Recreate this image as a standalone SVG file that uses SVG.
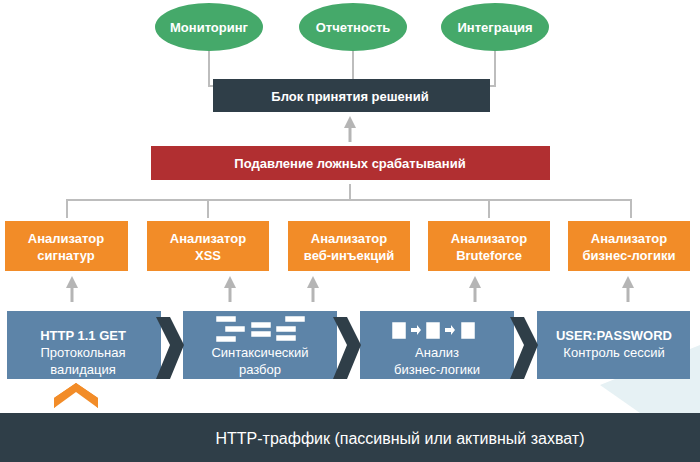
<svg xmlns="http://www.w3.org/2000/svg" width="700" height="462" viewBox="0 0 700 462">
<style>
text{font-family:"Liberation Sans",Arial,sans-serif;text-anchor:middle;fill:#fff}
.b{font-weight:bold;font-size:13px}
.n{font-size:13px}
.g{fill:#45a96a}
.o{fill:#f28c28}
.bl{fill:#5d84a8}
.ln{stroke:#bdbdbd;stroke-width:2;fill:none}
.ar{stroke:#b5b5b5;stroke-width:3;fill:none;marker-end:url(#ah)}
.ch{fill:#2f3e48}
.sm{fill:#fff;stroke:#5d84a8;stroke-width:0.5}
</style>
<defs><marker id="ah" markerWidth="4" markerHeight="4" refX="2" refY="2" orient="auto" markerUnits="strokeWidth"><path d="M0,0L4,2L0,4z" fill="#b5b5b5"/></marker></defs>
<rect width="700" height="462" fill="#fff"/>
<polygon points="600,385 700,345 700,413 640,413" fill="#e6f1f4"/>
<g id="connectors">
<path class="ln" d="M209,50V86H495V50M353,50V100"/>
<path class="ar" d="M350,142V122"/>
<path class="ln" d="M350,184V200M67,218V200H631V218M208,200V218M489,200V218"/>
<path class="ar" d="M72,302V282"/>
<path class="ar" d="M230,302V282"/>
<path class="ar" d="M313,302V282"/>
<path class="ar" d="M475,302V282"/>
<path class="ar" d="M628,302V282"/>
</g>
<g id="n-mon"><ellipse class="g" cx="209" cy="27" rx="54" ry="24"/><text class="b" x="209" y="32">Мониторинг</text></g>
<g id="n-otch"><ellipse class="g" cx="353" cy="27" rx="54" ry="24"/><text class="b" x="353" y="32">Отчетность</text></g>
<g id="n-int"><ellipse class="g" cx="495" cy="27" rx="54" ry="24"/><text class="b" x="495" y="32">Интеграция</text></g>
<g id="n-block"><rect x="213" y="79" width="277" height="33" fill="#2f3e48"/><text class="b" x="350" y="101">Блок принятия решений</text></g>
<g id="n-supp"><rect x="151" y="146" width="399" height="34" fill="#b12f31"/><text class="b" x="350" y="168">Подавление ложных срабатываний</text></g>
<g id="a1"><rect class="o" x="5" y="221" width="123" height="50"/><text class="b" x="66" y="243">Анализатор</text><text class="b" x="66" y="260">сигнатур</text></g>
<g id="a2"><rect class="o" x="147" y="221" width="122" height="50"/><text class="b" x="208" y="243">Анализатор</text><text class="b" x="208" y="260">XSS</text></g>
<g id="a3"><rect class="o" x="288" y="221" width="122" height="50"/><text class="b" x="349" y="243">Анализатор</text><text class="b" x="349" y="260">веб-инъекций</text></g>
<g id="a4"><rect class="o" x="428" y="221" width="122" height="50"/><text class="b" x="489" y="243">Анализатор</text><text class="b" x="489" y="260">Bruteforce</text></g>
<g id="a5"><rect class="o" x="568" y="221" width="122" height="50"/><text class="b" x="629" y="243">Анализатор</text><text class="b" x="629" y="260">бизнес-логики</text></g>
<g id="p1"><rect class="bl" x="7" y="311" width="154" height="68"/><text class="b" x="83" y="340">HTTP 1.1 GET</text><text class="n" x="83" y="357">Протокольная</text><text class="n" x="83" y="374">валидация</text></g>
<g id="p2"><rect class="bl" x="183" y="311" width="154" height="68"/>
<rect class="sm" x="216" y="316" width="20" height="6"/><rect class="sm" x="225" y="326" width="20" height="6"/><rect class="sm" x="216" y="336" width="20" height="6"/><rect class="sm" x="251" y="322" width="20" height="6"/><rect class="sm" x="251" y="331" width="20" height="6"/><rect class="sm" x="285" y="316" width="20" height="6"/><rect class="sm" x="276" y="326" width="20" height="6"/><rect class="sm" x="276" y="335" width="20" height="6"/>
<text class="n" x="260" y="357">Синтаксический</text><text class="n" x="260" y="374">разбор</text></g>
<g id="p3"><rect class="bl" x="360" y="311" width="154" height="68"/>
<rect class="sm" x="392" y="322" width="14" height="17"/><rect class="sm" x="426" y="322" width="14" height="17"/><rect class="sm" x="461" y="322" width="14" height="17"/>
<path d="M411,328h6v-3l4,5l-4,5v-3h-6z M445,328h6v-3l4,5l-4,5v-3h-6z" fill="#fff"/>
<text class="n" x="437" y="357">Анализ</text><text class="n" x="437" y="374">бизнес-логики</text></g>
<g id="p4"><rect class="bl" x="537" y="311" width="153" height="68"/><text class="b" x="614" y="340">USER:PASSWORD</text><text class="n" x="614" y="357">Контроль сессий</text></g>
<path class="ch" d="M156,317h14l14,28l-14,34h-14l14,-34z"/>
<path class="ch" d="M333,317h14l14,28l-14,34h-14l14,-34z"/>
<path class="ch" d="M510,317h14l14,28l-14,34h-14l14,-34z"/>
<path d="M54,408L76,386L98,408V398L76,383L54,398z" fill="#f28c28"/>
<path d="M54,398L76,383L98,398V408L76,392L54,408z" fill="#f28c28"/>
<g id="traffic"><rect x="0" y="413" width="700" height="49" fill="#2f3e48"/><text x="400" y="444" style="font-size:16px">HTTP-траффик (пассивный или активный захват)</text></g>
</svg>
